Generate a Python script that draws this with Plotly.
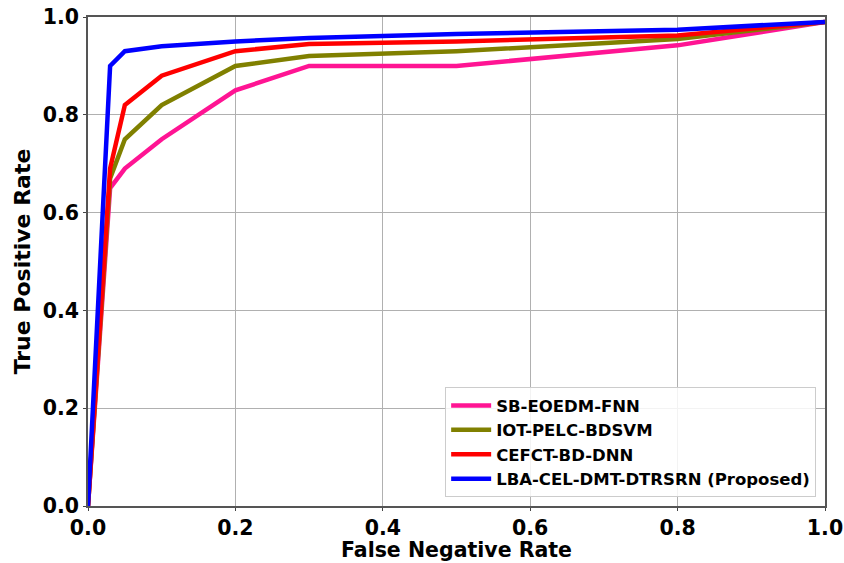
import plotly.graph_objects as go

fnr = [0.0, 0.03, 0.05, 0.1, 0.2, 0.3, 0.5, 0.8, 1.0]
sb_eoedm_fnn = [0.0, 0.65, 0.69, 0.75, 0.85, 0.90, 0.90, 0.942, 0.99]
iot_pelc_bdsvm = [0.0, 0.67, 0.75, 0.82, 0.90, 0.92, 0.93, 0.955, 0.99]
cefct_bd_dnn = [0.0, 0.69, 0.82, 0.88, 0.93, 0.945, 0.95, 0.962, 0.99]
proposed = [0.0, 0.90, 0.93, 0.94, 0.95, 0.957, 0.965, 0.974, 0.99]

names = ["SB-EOEDM-FNN", "IOT-PELC-BDSVM", "CEFCT-BD-DNN", "LBA-CEL-DMT-DTRSRN (Proposed)"]
series = [sb_eoedm_fnn, iot_pelc_bdsvm, cefct_bd_dnn, proposed]
colors = ["#FF1493", "#808000", "#FF0000", "#0000FF"]

fig = go.Figure()
for n, s, c in zip(names, series, colors):
    fig.add_trace(go.Scatter(x=fnr, y=s, mode="lines", name=n,
                             line=dict(color=c, width=4.5)))

axis_common = dict(
    range=[0, 1], dtick=0.2, tickformat=".1f",
    showgrid=True, gridcolor="#b0b0b0", gridwidth=1,
    showline=True, linecolor="#555555", linewidth=1.5, mirror=True,
    ticks="outside", ticklen=3, tickcolor="#444444",
    tickfont=dict(family="DejaVu Sans", size=20.5, color="black", weight="bold"),
    zeroline=False, automargin=False, ticklabeloverflow="allow",
)

fig.update_layout(
    width=844, height=563,
    margin=dict(l=88, r=19, t=17, b=57),
    paper_bgcolor="white", plot_bgcolor="white",
    font=dict(family="DejaVu Sans", color="black"),
    xaxis=dict(**axis_common),
    yaxis=dict(title=dict(text="True Positive Rate", standoff=6,
                          font=dict(size=22, weight="bold", family="DejaVu Sans")),
               **axis_common),
    legend=dict(x=0.988, y=0.018, xanchor="right", yanchor="bottom",
                bgcolor="rgba(255,255,255,0.85)", bordercolor="#cccccc", borderwidth=1,
                font=dict(size=16.5, weight="bold", family="DejaVu Sans"),
                itemwidth=40, tracegroupgap=0),
    showlegend=True,
    annotations=[dict(text="False Negative Rate", xref="paper", yref="paper",
                      x=0.5, y=0, xanchor="center", yanchor="middle", yshift=-44,
                      showarrow=False, borderpad=0,
                      font=dict(size=20.5, weight="bold", family="DejaVu Sans", color="black"))],
)

fig.write_html("out.html", config={"displayModeBar": False},
               post_script="document.body.style.margin='0';")
